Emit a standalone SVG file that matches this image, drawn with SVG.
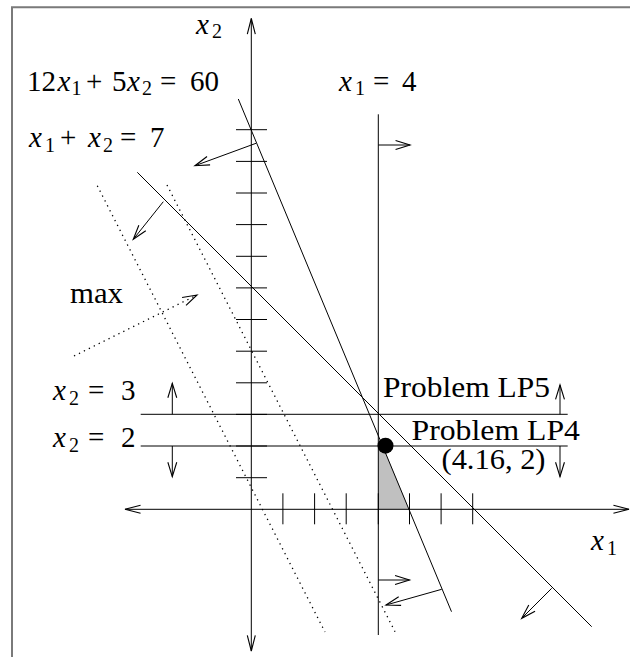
<svg xmlns="http://www.w3.org/2000/svg" width="630" height="657" viewBox="0 0 630 657">
<style>
text{font-family:"Liberation Serif","Times New Roman",serif;font-size:29px;fill:#000}
.it{font-style:italic}
.sub{font-size:20px}
.ln{stroke:#000;stroke-width:1;fill:none}
.tick{stroke:#000;stroke-width:1}
.dot{stroke:#000;stroke-width:1.3;stroke-dasharray:1.3 4.2;fill:none}
.arr{stroke:#000;stroke-width:1;fill:none;marker-end:url(#ah)}
</style>
<defs>
<marker id="ah" markerUnits="userSpaceOnUse" markerWidth="20" markerHeight="20" viewBox="-16 -8 18 16" refX="0" refY="0" orient="auto-start-reverse">
<path d="M-13,-4 L0,0 L-13,4" fill="none" stroke="#000" stroke-width="1"/>
</marker>
<marker id="ax" markerUnits="userSpaceOnUse" markerWidth="20" markerHeight="20" viewBox="-16 -8 18 16" refX="0" refY="0" orient="auto-start-reverse">
<path d="M-14,-3.6 L0,0 L-14,3.6" fill="none" stroke="#000" stroke-width="1"/>
</marker>
</defs>
<rect width="630" height="657" fill="#fff"/>
<path d="M12,657 V7.3 H630" fill="none" stroke="#7a7a7a" stroke-width="2"/>

<g id="feasible">
<polygon points="378.3,446 382.8,446 409,509.3 378.3,509.3" fill="#c0c0c0"/>
</g>

<g id="axes">
<line class="ln" x1="125" y1="509.3" x2="629" y2="509.3" marker-start="url(#ax)" marker-end="url(#ax)"/>
<line class="ln" x1="251.3" y1="18.5" x2="251.3" y2="651" marker-start="url(#ax)" marker-end="url(#ax)"/>
<g id="yticks">
<line class="tick" x1="236" y1="477.7" x2="267" y2="477.7"/>
<line class="tick" x1="236" y1="446" x2="267" y2="446"/>
<line class="tick" x1="236" y1="414.4" x2="267" y2="414.4"/>
<line class="tick" x1="236" y1="382.8" x2="267" y2="382.8"/>
<line class="tick" x1="236" y1="351.2" x2="267" y2="351.2"/>
<line class="tick" x1="236" y1="319.5" x2="267" y2="319.5"/>
<line class="tick" x1="236" y1="287.9" x2="267" y2="287.9"/>
<line class="tick" x1="236" y1="256.3" x2="267" y2="256.3"/>
<line class="tick" x1="236" y1="224.6" x2="267" y2="224.6"/>
<line class="tick" x1="236" y1="193" x2="267" y2="193"/>
<line class="tick" x1="236" y1="161.4" x2="267" y2="161.4"/>
<line class="tick" x1="236" y1="129.7" x2="267" y2="129.7"/>
</g>
<g id="xticks">
<line class="tick" x1="282.9" y1="493.3" x2="282.9" y2="524.3"/>
<line class="tick" x1="314.6" y1="493.3" x2="314.6" y2="524.3"/>
<line class="tick" x1="346.2" y1="493.3" x2="346.2" y2="524.3"/>
<line class="tick" x1="378.3" y1="493.3" x2="378.3" y2="524.3"/>
<line class="tick" x1="409.5" y1="493.3" x2="409.5" y2="524.3"/>
<line class="tick" x1="441.1" y1="493.3" x2="441.1" y2="524.3"/>
<line class="tick" x1="472.7" y1="493.3" x2="472.7" y2="524.3"/>
</g>
</g>

<g id="constraints">
<line id="c-x1-4" class="ln" x1="378.3" y1="114.3" x2="378.3" y2="635"/>
<line id="c-x2-3" class="ln" x1="140.7" y1="414.3" x2="567.7" y2="414.3"/>
<line id="c-x2-2" class="ln" x1="140.7" y1="446" x2="567.7" y2="446"/>
<line id="c-12x1" class="ln" x1="238.3" y1="99" x2="451.5" y2="611.7"/>
<line id="c-x1x2" class="ln" x1="137.3" y1="172.3" x2="591.7" y2="626.7"/>
<line id="obj-a" class="dot" x1="97.3" y1="185.7" x2="325" y2="632"/>
<line id="obj-b" class="dot" x1="167" y1="185" x2="395" y2="631.7"/>
</g>

<g id="connectors">
<line class="arr" x1="378.3" y1="145" x2="410" y2="145"/>
<line class="arr" x1="378.3" y1="580" x2="409.5" y2="580"/>
<line class="arr" x1="256" y1="143.3" x2="195" y2="165.7"/>
<line class="arr" x1="441.7" y1="589.3" x2="386" y2="605"/>
<line class="arr" x1="163.3" y1="201.7" x2="133.3" y2="239.3"/>
<line class="arr" x1="551.7" y1="588.3" x2="521.7" y2="618.3"/>
<line class="arr" x1="172.3" y1="414.3" x2="172.3" y2="383.3"/>
<line class="arr" x1="172.3" y1="446" x2="172.3" y2="476.7"/>
<line class="arr" x1="560" y1="414.3" x2="560" y2="385"/>
<line class="arr" x1="560" y1="446" x2="560" y2="476.7"/>
<line class="dot" x1="74" y1="356" x2="197" y2="295" marker-end="url(#ah)"/>
</g>

<g id="point">
<circle cx="385.5" cy="445.7" r="8" fill="#000"/>
</g>

<g id="labels">
<text id="lbl-x2"><tspan class="it" x="196" y="33.5">x</tspan><tspan class="sub" x="212" y="38">2</tspan></text>
<text id="lbl-x1"><tspan class="it" x="591" y="550">x</tspan><tspan class="sub" x="607" y="554.5">1</tspan></text>
<text id="lbl-12x1"><tspan x="27" y="90.7">12</tspan><tspan class="it" x="57.5" y="90.7">x</tspan><tspan class="sub" x="71.5" y="95">1</tspan><tspan x="86" y="90.7">+</tspan><tspan x="112" y="90.7">5</tspan><tspan class="it" x="127" y="90.7">x</tspan><tspan class="sub" x="142" y="95">2</tspan><tspan x="160" y="90.7">=</tspan><tspan x="190" y="90.7">60</tspan></text>
<text id="lbl-x1x2"><tspan class="it" x="29" y="147.3">x</tspan><tspan class="sub" x="45" y="151.8">1</tspan><tspan x="60" y="147.3">+</tspan><tspan class="it" x="88" y="147.3">x</tspan><tspan class="sub" x="103" y="151.8">2</tspan><tspan x="120" y="147.3">=</tspan><tspan x="150" y="147.3">7</tspan></text>
<text id="lbl-x1-4"><tspan class="it" x="339" y="90.7">x</tspan><tspan class="sub" x="355" y="95">1</tspan><tspan x="373" y="90.7">=</tspan><tspan x="402" y="90.7">4</tspan></text>
<text id="lbl-x2-3"><tspan class="it" x="53" y="400">x</tspan><tspan class="sub" x="69" y="404.5">2</tspan><tspan x="88" y="400">=</tspan><tspan x="121" y="400">3</tspan></text>
<text id="lbl-x2-2"><tspan class="it" x="53" y="447.3">x</tspan><tspan class="sub" x="69" y="451.8">2</tspan><tspan x="88" y="447.3">=</tspan><tspan x="121" y="447.3">2</tspan></text>
<text id="lbl-max" x="70" y="303.3" textLength="53" lengthAdjust="spacingAndGlyphs">max</text>
<text id="lbl-lp5" x="383" y="396.7" textLength="167" lengthAdjust="spacingAndGlyphs">Problem LP5</text>
<text id="lbl-lp4" x="411.5" y="440" textLength="168.5" lengthAdjust="spacingAndGlyphs">Problem LP4</text>
<text id="lbl-pt" x="441.5" y="469" textLength="104" lengthAdjust="spacingAndGlyphs">(4.16, 2)</text>
</g>
</svg>
